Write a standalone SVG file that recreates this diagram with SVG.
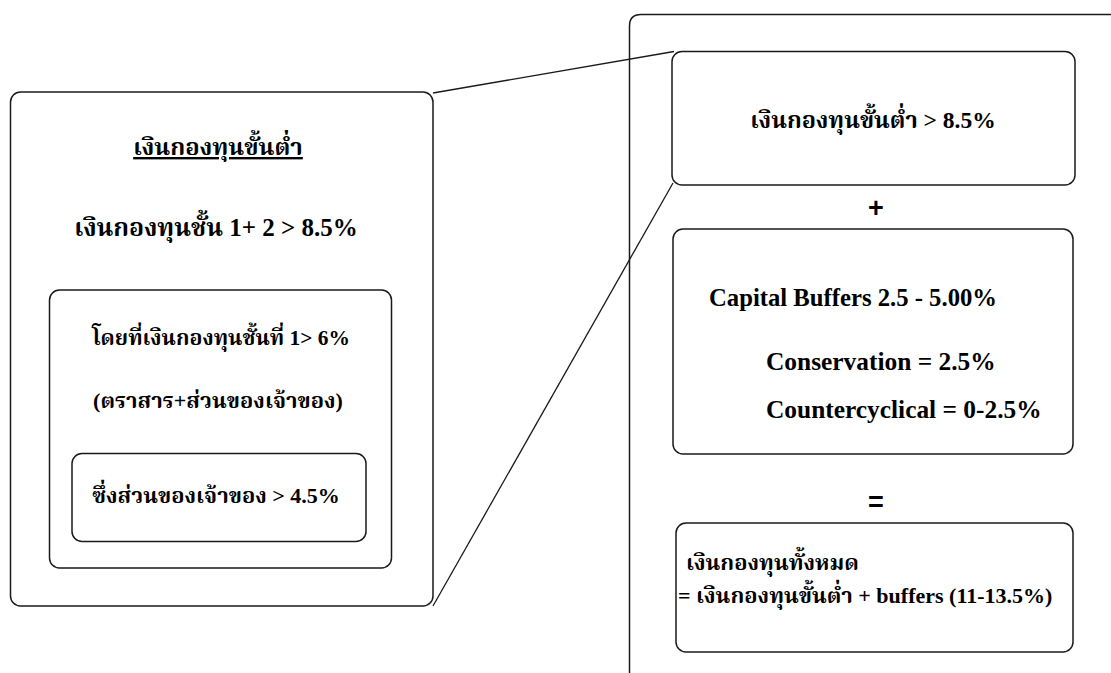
<svg xmlns="http://www.w3.org/2000/svg" width="1111" height="673" viewBox="0 0 1111 673">
<style>
.box{fill:none;stroke:#1a1a1a;stroke-width:1.5}
.ln{fill:none;stroke:#1a1a1a;stroke-width:1.3}
.t{font-family:"Liberation Serif","Noto Serif Thai","Noto Sans Thai","DejaVu Serif","Noto Sans",serif;font-weight:bold;fill:#000}
.op{font-family:"Liberation Sans","DejaVu Sans",sans-serif;font-weight:900;font-size:27px;text-anchor:middle;fill:#000}
.c{text-anchor:middle}
</style>
<rect width="1111" height="673" fill="#fff"/>
<g id="connectors">
<line class="ln" x1="433" y1="93" x2="674" y2="51.5"/>
<line class="ln" x1="433" y1="606" x2="673" y2="183"/>
</g>
<g id="left-outer">
<rect class="box" x="10.5" y="92" width="422.5" height="514" rx="10"/>
<text class="t c" x="218" y="155" style="font-size:23.8px" text-decoration="underline">เงินกองทุนขั้นต่ำ</text>
<text class="t c" x="216" y="236" style="font-size:25px">เงินกองทุนชั้น 1+ 2 &gt; 8.5%</text>
</g>
<g id="left-inner">
<rect class="box" x="49.5" y="290" width="342" height="278" rx="10"/>
<text class="t c" x="221" y="345" style="font-size:21.4px">โดยที่เงินกองทุนชั้นที่ 1&gt; 6%</text>
<text class="t c" x="218" y="408" style="font-size:22px">(ตราสาร+ส่วนของเจ้าของ)</text>
</g>
<g id="left-innermost">
<rect class="box" x="72" y="453.5" width="294" height="88" rx="10"/>
<text class="t c" x="216" y="503" style="font-size:22px">ซึ่งส่วนของเจ้าของ &gt; 4.5%</text>
</g>
<g id="right-outer">
<path class="box" d="M629.5,673 V26 Q629.5,14.5 641,14.5 H1111"/>
</g>
<g id="min-capital">
<rect class="box" x="672" y="51.5" width="403" height="133.5" rx="10"/>
<text class="t c" x="873" y="128" style="font-size:23.5px">เงินกองทุนขั้นต่ำ &gt; 8.5%</text>
</g>
<g id="plus">
<text class="op" x="876" y="217">+</text>
</g>
<g id="buffers">
<rect class="box" x="673" y="229" width="400" height="225" rx="10"/>
<text class="t" x="709" y="306" style="font-size:24.7px">Capital Buffers 2.5 - 5.00%</text>
<text class="t" x="766" y="370" style="font-size:25.4px">Conservation = 2.5%</text>
<text class="t" x="766" y="418" style="font-size:25.4px">Countercyclical = 0-2.5%</text>
</g>
<g id="equals">
<text class="op" x="876" y="511">=</text>
</g>
<g id="total">
<rect class="box" x="676" y="523" width="397" height="129" rx="10"/>
<text class="t" x="686" y="570" style="font-size:22px">เงินกองทุนทั้งหมด</text>
<text class="t" x="678" y="603" style="font-size:22px">= เงินกองทุนขั้นต่ำ + buffers (11-13.5%)</text>
</g>
</svg>
